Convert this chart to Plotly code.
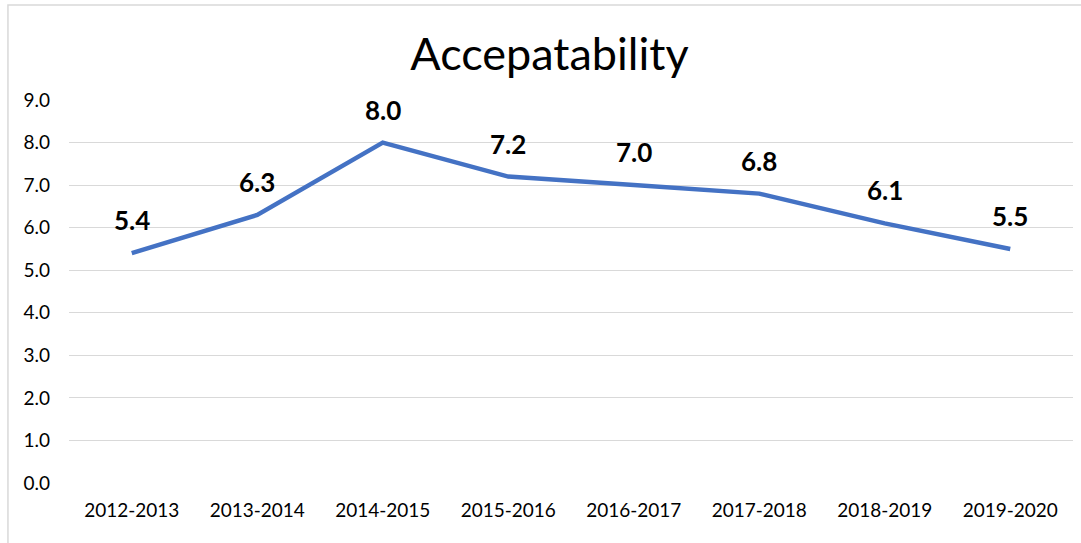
import plotly.graph_objects as go

# Acceptability score by academic year
years = ["2012-2013", "2013-2014", "2014-2015", "2015-2016",
         "2016-2017", "2017-2018", "2018-2019", "2019-2020"]
scores = [5.4, 6.3, 8.0, 7.2, 7.0, 6.8, 6.1, 5.5]
y_ticks = [0, 1, 2, 3, 4, 5, 6, 7, 8, 9]

FONT = "Lato, 'Open Sans', Arial, sans-serif"
LINE_BLUE = "#4472C4"

fig = go.Figure()
fig.add_trace(go.Scatter(
    x=years, y=scores, mode="lines",
    line=dict(color=LINE_BLUE, width=4.5),
    hoverinfo="x+y", showlegend=False,
))

# Bold value labels sitting above each point
for yr, val in zip(years, scores):
    fig.add_annotation(
        x=yr, y=val, text=f"<b>{val:.1f}</b>", showarrow=False,
        yshift=33, xanchor="center", yanchor="middle",
        font=dict(family=FONT, size=26, color="#000000"),
    )

# Light frame around the chart area (left and top edges)
fig.add_shape(type="rect", xref="paper", yref="paper",
              x0=-0.0608, x1=1.05, y0=-0.5, y1=1.2482,
              line=dict(color="#D9D9D9", width=1.5), fillcolor="rgba(0,0,0,0)",
              layer="below")

fig.update_layout(
    width=1081, height=543,
    margin=dict(l=69, r=8, t=100, b=60),
    paper_bgcolor="white", plot_bgcolor="white",
    font=dict(family=FONT, size=19, color="#000000"),
    title=dict(text="Accepatability", x=0.5083, xanchor="center",
               y=0.9006, yanchor="middle",
               font=dict(family=FONT, size=45, color="#000000")),
    xaxis=dict(
        type="category", showgrid=False, zeroline=False, showline=False,
        ticks="", tickfont=dict(size=19), ticklabelstandoff=14,
        range=[-0.5, len(years) - 0.5],
    ),
    yaxis=dict(
        range=[0, 9], tickvals=y_ticks, tickformat=".1f",
        showgrid=True, gridcolor="#D9D9D9", gridwidth=1.2,
        zeroline=False, showline=False, ticks="",
        tickfont=dict(size=19), ticklabelstandoff=18,
    ),
)

fig.write_html("out.html")
